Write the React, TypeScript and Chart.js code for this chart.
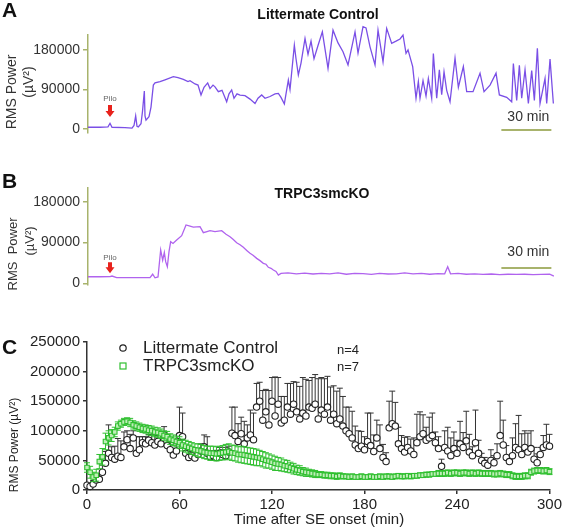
import React, { useEffect, useRef } from "react";
import { Chart, registerables } from "chart.js";
Chart.register(...registerables);

const FONT = "'Liberation Sans', Arial, sans-serif";
const OLIVE = "#a8b36c";
const GREEN = "#2fbf2f";

// ---------- Panel A: Littermate Control trace ----------
const A_TIME = [0, 7.2, 12, 13.2, 14.4, 22.2, 26.4, 27.6, 28.6, 29.4, 30.2, 31.8, 32.7, 33.8, 34.2, 34.8, 36.6, 37.8, 39.2, 40.2, 43.2, 46.2, 51.2, 54, 57.2, 60, 61.2, 64.2, 66, 67.8, 69.6, 71.8, 73.2, 75, 76.2, 78.2, 80.4, 83.2, 84.6, 86.2, 87.6, 89.4, 91.2, 94.2, 97.2, 100.2, 102, 104.2, 106.2, 109.2, 112.2, 114.2, 115.8, 117.8, 118.8, 120.2, 121.2, 122.1, 123.8, 124.8, 126.2, 127.8, 130.2, 132, 133.8, 135.6, 138, 140.6, 144, 147, 150, 153, 156, 160.2, 162, 165, 166.8, 169.2, 172.2, 174, 177, 179.2, 182.2, 184.8, 187.2, 189, 190.8, 192, 194.8, 196.8, 198.2, 199.2, 201, 202.8, 204.2, 206.2, 207.2, 209.2, 210.8, 212.2, 213.6, 215.2, 217.2, 220.2, 222.2, 225.2, 227.2, 231, 235.2, 237.6, 241.2, 244.8, 246.8, 251.2, 254.2, 255.2, 257.2, 258.8, 260.2, 262.2, 264.2, 266.2, 267.8, 269.6, 271.2, 274.2, 275.2, 277.2, 279.2];
const A_POWER = [4000, 4000, 5000, 13000, 4000, 3000, 2000, 8000, 30000, 6000, 4500, 12000, 40000, 86500, 30000, 20000, 28000, 50000, 100000, 105000, 108000, 112000, 119000, 117000, 113000, 108000, 110000, 102500, 100000, 77500, 95000, 105000, 92000, 100000, 96000, 85000, 88000, 62000, 80000, 89000, 70000, 80000, 77000, 76000, 68000, 58000, 70000, 77500, 70000, 74000, 80000, 81000, 72000, 57000, 80000, 111500, 90000, 125000, 191000, 160000, 123000, 150000, 206000, 170000, 200000, 160000, 190000, 221000, 138000, 225000, 196000, 176000, 146000, 221000, 173000, 233000, 230000, 187000, 146000, 225000, 153000, 229000, 195000, 200000, 205000, 214000, 172000, 180000, 142000, 70000, 108000, 70000, 110000, 75000, 115000, 70000, 172000, 70000, 135000, 78000, 130000, 88000, 62000, 161000, 95000, 142000, 85000, 85000, 127000, 85000, 100000, 127000, 77500, 72000, 62000, 149000, 65000, 145000, 70000, 135000, 58000, 133000, 65000, 184000, 58000, 115000, 58000, 159000, 58000];

// ---------- Panel B: TRPC3smcKO trace ----------
const B_TIME = [0, 7.2, 13.2, 14.4, 17.2, 25.2, 37.2, 38.8, 40.2, 42, 43.6, 44.8, 45.8, 46.6, 47.6, 48.6, 49.6, 51, 53.2, 56.2, 58.8, 61.2, 63.2, 67.2, 69.2, 71.4, 73.2, 76.2, 80.2, 82.8, 85.2, 87, 89.2, 91.2, 93.2, 95.4, 97.2, 99, 101.2, 103.2, 105.2, 106.8, 108.2, 109.8, 111.2, 112.8, 114.2, 115.8, 120, 125, 130, 135, 140, 145, 150, 155, 160, 165, 170, 175, 180, 185, 190, 195, 200, 205, 210, 214, 215.8, 217.5, 222, 227, 232, 237, 242, 247, 252, 257, 262, 267, 272, 277, 279.5];
const B_POWER = [14500, 14500, 14800, 16000, 12500, 12400, 12400, 20000, 12000, 14000, 73500, 51000, 68000, 47700, 36600, 70000, 91800, 88000, 95500, 105000, 128600, 126000, 124000, 125000, 111700, 114000, 116000, 114000, 116000, 108000, 102800, 97000, 89600, 85000, 79400, 72000, 66200, 62000, 55000, 50000, 44100, 42000, 35300, 33000, 29300, 26000, 18300, 22000, 23000, 21000, 22500, 20500, 22000, 21000, 23000, 20000, 22000, 21500, 19500, 22000, 20500, 21000, 23000, 21000, 22000, 20000, 21500, 21000, 36600, 21000, 22000, 20000, 21000, 19500, 20500, 19000, 20000, 19500, 20000, 19000, 19500, 20000, 16000];

const TRACE_TICKS = [0, 90000, 180000];
const PILO_MIN = 13.2;
const SCALE_BAR = [248, 278];

// ---------- Panel C: averaged RMS power, every 2 min ----------
const SAMPLE_STEP = 2;
const CTRL_MEAN = [
  8000, 6000, 10000, 17000, 18000, 30000, 45000, 62000, 55000, 52000,
  57000, 55000, 73000, 85000, 70000, 88000, 62000, 68000, 80000, 78000,
  84000, 80000, 76000, 82000, 78000, 93000, 75000, 68000, 59000, 66000,
  92000, 90000, 62000, 55000, 58000, 54000, 60000, 66000, 73000, 62000,
  56000, 58000, 55000, 62000, 60000, 58000, 64000, 96000, 92000, 82000,
  95000, 78000, 88000, 93000, 85000, 140000, 150000, 118000, 132000, 110000,
  150000, 125000, 145000, 113000, 118000, 140000, 128000, 145000, 132000, 120000,
  130000, 125000, 140000, 138000, 145000, 120000, 135000, 128000, 140000, 118000,
  128000, 112000, 120000, 108000, 100000, 95000, 88000, 76000, 70000, 74000,
  68000, 82000, 75000, 65000, 88000, 70000, 55000, 48000, 105000, 112000,
  108000, 78000, 70000, 64000, 72000, 66000, 60000, 80000, 90000, 95000,
  84000, 88000, 92000, 80000, 70000, 40000, 72000, 66000, 58000, 70000,
  62000, 78000, 72000, 83000, 64000, 58000, 80000, 62000, 50000, 45000,
  42000, 50000, 46000, 58000, 92000, 76000, 55000, 48000, 58000, 72000,
  68000, 60000, 72000, 64000, 70000, 52000, 46000, 60000, 72000, 76000,
  74000,
];
const CTRL_SEM = [
  3000, 3000, 6000, 8000, 10000, 12000, 20000, 48000, 18000, 22000,
  30000, 28000, 25000, 15000, 24000, 12000, 28000, 22000, 10000, 12000,
  10000, 14000, 18000, 10000, 20000, 14000, 16000, 12000, 10000, 12000,
  48000, 40000, 8000, 10000, 12000, 8000, 10000, 12000, 20000, 28000,
  10000, 8000, 12000, 10000, 8000, 14000, 10000, 44000, 48000, 30000,
  28000, 38000, 22000, 42000, 45000, 40000, 32000, 50000, 38000, 58000,
  40000, 66000, 45000, 45000, 40000, 40000, 52000, 38000, 50000, 55000,
  60000, 62000, 45000, 52000, 50000, 68000, 55000, 60000, 52000, 56000,
  48000, 55000, 52000, 50000, 40000, 45000, 45000, 32000, 30000, 25000,
  22000, 48000, 55000, 28000, 30000, 40000, 22000, 15000, 45000, 55000,
  40000, 28000, 22000, 25000, 18000, 20000, 28000, 48000, 42000, 32000,
  22000, 35000, 38000, 18000, 20000, 12000, 28000, 40000, 30000, 28000,
  22000, 38000, 25000, 50000, 30000, 15000, 55000, 22000, 12000, 10000,
  8000, 18000, 12000, 20000, 58000, 42000, 20000, 10000, 30000, 40000,
  58000, 35000, 28000, 32000, 30000, 20000, 15000, 12000, 20000, 35000,
  20000,
];
const KO_MEAN = [
  38000, 30000, 22000, 25000, 48000, 56000, 82000, 88000, 92000, 98000,
  108000, 112000, 115000, 116000, 114000, 110000, 108000, 106000, 104000, 103000,
  101000, 100000, 98000, 97000, 95000, 92000, 90000, 86000, 84000, 82000,
  80000, 76000, 74000, 72000, 70000, 68000, 67000, 66000, 64000, 63000,
  62000, 62000, 61000, 62000, 63000, 64000, 65000, 63000, 62000, 60000,
  60000, 59000, 58000, 57000, 56000, 55000, 54000, 52000, 50000, 49000,
  47000, 45000, 44000, 43000, 41000, 40000, 38000, 36000, 34000, 33000,
  31000, 30000, 29000, 28000, 27000, 26000, 26000, 25000, 25000, 24000,
  24000, 23000, 24000, 23000, 23000, 22000, 23000, 22000, 22000, 23000,
  22000, 22000, 23000, 22000, 22000, 23000, 22000, 23000, 23000, 22000,
  23000, 24000, 23000, 23000, 24000, 23000, 24000, 24000, 25000, 25000,
  26000, 26000, 27000, 27000, 28000, 28000, 28000, 29000, 28000, 29000,
  29000, 28000, 29000, 29000, 28000, 29000, 28000, 29000, 28000, 28000,
  28000, 28000, 27000, 27000, 28000, 27000, 26000, 26000, 24000, 23000,
  23000, 23000, 24000, 24000, 30000, 32000, 33000, 33000, 32000, 33000,
  31000,
];
const KO_SEM = [
  8000, 10000, 8000, 10000, 12000, 14000, 14000, 12000, 10000, 8000,
  7000, 6000, 6000, 6000, 7000, 7000, 7000, 7000, 7000, 7000,
  8000, 8000, 8000, 8000, 8000, 8000, 9000, 9000, 9000, 9000,
  10000, 10000, 10000, 10000, 10000, 10000, 11000, 11000, 11000, 11000,
  12000, 12000, 12000, 12000, 12000, 13000, 13000, 13000, 13000, 13000,
  14000, 14000, 14000, 14000, 14000, 14000, 13000, 13000, 13000, 12000,
  12000, 12000, 11000, 11000, 10000, 10000, 9000, 9000, 8000, 8000,
  7000, 7000, 6000, 6000, 6000, 5000, 5000, 5000, 5000, 5000,
  5000, 5000, 5000, 4000, 4000, 4000, 4000, 4000, 4000, 4000,
  4000, 4000, 4000, 4000, 4000, 4000, 4000, 4000, 4000, 4000,
  4000, 4000, 4000, 4000, 4000, 4000, 4000, 4000, 4000, 4000,
  4000, 4000, 4000, 4000, 5000, 5000, 5000, 5000, 5000, 5000,
  5000, 5000, 5000, 5000, 5000, 5000, 5000, 5000, 5000, 5000,
  5000, 5000, 5000, 5000, 5000, 5000, 5000, 5000, 5000, 5000,
  5000, 5000, 5000, 5000, 5000, 5000, 5000, 5000, 5000, 5000,
  5000,
];
const C_TIME = CTRL_MEAN.map((_, i) => i * SAMPLE_STEP);
const C_X_TICKS = [0, 60, 120, 180, 240, 300];
const C_Y_STEP = 50000;

function drawVertical(ctx: CanvasRenderingContext2D, text: string, x: number, y: number, font: string, color: string) {
  ctx.save();
  ctx.translate(x, y);
  ctx.rotate(-Math.PI / 2);
  ctx.font = font;
  ctx.fillStyle = color;
  ctx.textAlign = "center";
  ctx.textBaseline = "middle";
  ctx.fillText(text, 0, 0);
  ctx.restore();
}

function traceDecor(p: any) {
  return {
    id: "traceDecor",
    afterDraw(chart: any) {
      const { ctx } = chart;
      const x = chart.scales.x;
      const y = chart.scales.y;
      ctx.save();
      ctx.textBaseline = "middle";
      // panel letter
      ctx.fillStyle = "#111";
      ctx.textAlign = "left";
      ctx.font = `bold 21px ${FONT}`;
      ctx.fillText(p.letter, 2, p.letterY);
      // title
      ctx.textAlign = "center";
      ctx.font = `bold 14px ${FONT}`;
      ctx.fillText(p.title, p.titleX, p.titleY);
      // y axis title (two lines)
      drawVertical(ctx, p.yTitle1, p.yT1x, p.yT1y, `${p.yTitleSize}px ${FONT}`, "#333");
      drawVertical(ctx, "(\u00b5V\u00b2)", p.yT2x, p.yT2y, `${p.yTitleSize}px ${FONT}`, "#333");
      // Pilo marker
      const px = x.getPixelForValue(PILO_MIN);
      const y0 = y.getPixelForValue(0);
      ctx.fillStyle = "#666";
      ctx.font = `8px ${FONT}`;
      ctx.fillText("Pilo", px, y0 - p.piloText);
      ctx.fillStyle = "#e8221c";
      const top = y0 - p.arrowTop;
      const tip = y0 - p.arrowTip;
      const neck = tip - 6;
      ctx.beginPath();
      ctx.moveTo(px - 2, top);
      ctx.lineTo(px + 2, top);
      ctx.lineTo(px + 2, neck);
      ctx.lineTo(px + 4.5, neck);
      ctx.lineTo(px, tip);
      ctx.lineTo(px - 4.5, neck);
      ctx.lineTo(px - 2, neck);
      ctx.closePath();
      ctx.fill();
      // scale bar
      const bx0 = x.getPixelForValue(SCALE_BAR[0]);
      const bx1 = x.getPixelForValue(SCALE_BAR[1]);
      const by = y.getPixelForValue(p.barValue);
      ctx.strokeStyle = OLIVE;
      ctx.lineWidth = 2;
      ctx.beginPath();
      ctx.moveTo(bx0, by);
      ctx.lineTo(bx1, by);
      ctx.stroke();
      ctx.fillStyle = "#333";
      ctx.font = `14px ${FONT}`;
      ctx.fillText("30 min", (bx0 + bx1) / 2 + 2, by - p.barText);
      ctx.restore();
    },
  };
}

function makeTrace(canvas: HTMLCanvasElement, p: any) {
  return new Chart(canvas, {
    type: "line",
    data: {
      datasets: [
        {
          data: p.times.map((t: number, i: number) => ({ x: t, y: p.values[i] })),
          borderColor: p.color,
          borderWidth: 1.3,
          pointRadius: 0,
          tension: 0,
          clip: false as any,
        },
      ],
    },
    options: {
      animation: false,
      responsive: false,
      events: [],
      layout: { padding: { left: 0, top: p.areaTop, right: 9.3, bottom: p.height - p.areaBottom } },
      plugins: { legend: { display: false }, tooltip: { enabled: false }, title: { display: false } },
      scales: {
        x: { type: "linear", display: false, min: 0, max: 280 },
        y: {
          type: "linear",
          min: p.yMin,
          max: p.yMax,
          afterFit: (s: any) => {
            s.width = 88;
          },
          afterBuildTicks: (s: any) => {
            s.ticks = TRACE_TICKS.map((v) => ({ value: v }));
          },
          border: { display: true, color: OLIVE, width: 1.5 },
          grid: { drawOnChartArea: false, drawTicks: true, tickLength: 5, color: OLIVE, lineWidth: 1.5 },
          ticks: { color: "#333", font: { family: FONT, size: 14 }, padding: 3, callback: (v: any) => String(v) },
        },
      },
    },
    plugins: [traceDecor(p)],
  } as any);
}

const avgPlugin = {
  id: "avgDecor",
  beforeDatasetDraw(chart: any, args: any) {
    const ds = chart.data.datasets[args.index];
    const eb = ds.errorBars;
    if (!eb) return;
    const { ctx } = chart;
    const x = chart.scales.x;
    const y = chart.scales.y;
    ctx.save();
    ctx.strokeStyle = eb.color;
    ctx.lineWidth = 1;
    ds.data.forEach((pt: any, j: number) => {
      const px = x.getPixelForValue(pt.x);
      const topY = y.getPixelForValue(pt.y + eb.values[j]);
      const botY = eb.both ? y.getPixelForValue(pt.y - eb.values[j]) : y.getPixelForValue(pt.y);
      ctx.beginPath();
      ctx.moveTo(px, topY);
      ctx.lineTo(px, botY);
      ctx.moveTo(px - 3, topY);
      ctx.lineTo(px + 3, topY);
      if (eb.both) {
        ctx.moveTo(px - 3, botY);
        ctx.lineTo(px + 3, botY);
      }
      ctx.stroke();
    });
    ctx.restore();
  },
  afterDraw(chart: any) {
    const { ctx } = chart;
    ctx.save();
    ctx.textBaseline = "middle";
    ctx.textAlign = "left";
    ctx.fillStyle = "#111";
    ctx.font = `bold 21px ${FONT}`;
    ctx.fillText("C", 2, 38);
    // legend
    ctx.lineWidth = 1.2;
    ctx.strokeStyle = "#222";
    ctx.fillStyle = "#fff";
    ctx.beginPath();
    ctx.arc(123, 38, 3.2, 0, Math.PI * 2);
    ctx.fill();
    ctx.stroke();
    ctx.strokeStyle = GREEN;
    ctx.strokeRect(120, 53, 6, 6);
    ctx.fillStyle = "#222";
    ctx.font = `17px ${FONT}`;
    ctx.fillText("Littermate Control", 143, 38);
    ctx.fillText("TRPC3smcKO", 143, 56);
    ctx.font = `13px ${FONT}`;
    ctx.fillText("n=4", 337, 40);
    ctx.fillText("n=7", 337, 57);
    // axis titles
    ctx.textAlign = "center";
    ctx.font = `15px ${FONT}`;
    ctx.fillText("Time after SE onset (min)", 319, 210);
    drawVertical(ctx, "RMS Power (\u00b5V\u00b2)", 15, 135, `12px ${FONT}`, "#222");
    ctx.restore();
  },
};

function makeAverage(canvas: HTMLCanvasElement) {
  return new Chart(canvas, {
    type: "line",
    data: {
      datasets: [
        {
          label: "Littermate Control",
          data: C_TIME.map((t, i) => ({ x: t, y: CTRL_MEAN[i] })),
          showLine: false,
          pointStyle: "circle",
          pointRadius: 3.2,
          pointBorderWidth: 1.1,
          pointBorderColor: "#222",
          pointBackgroundColor: "#fff",
          order: 2,
          clip: false,
          errorBars: { values: CTRL_SEM, both: false, color: "#333" },
        },
        {
          label: "TRPC3smcKO",
          data: C_TIME.map((t, i) => ({ x: t, y: KO_MEAN[i] })),
          showLine: false,
          pointStyle: "rect",
          pointRadius: 3.2,
          pointBorderWidth: 1.1,
          pointBorderColor: GREEN,
          pointBackgroundColor: "#bfeeb8",
          order: 1,
          clip: false,
          errorBars: { values: KO_SEM, both: true, color: GREEN },
        },
      ],
    },
    options: {
      animation: false,
      responsive: false,
      events: [],
      layout: { padding: { left: 0, top: 32, right: 13, bottom: 0 } },
      plugins: { legend: { display: false }, tooltip: { enabled: false }, title: { display: false } },
      scales: {
        x: {
          type: "linear",
          min: 0,
          max: 300,
          afterFit: (s: any) => {
            s.height = 37;
          },
          afterBuildTicks: (s: any) => {
            s.ticks = C_X_TICKS.map((v) => ({ value: v }));
          },
          border: { display: true, color: "#333", width: 1.5 },
          grid: { drawOnChartArea: false, drawTicks: true, tickLength: 4, color: "#333", lineWidth: 1.5 },
          ticks: { color: "#222", font: { family: FONT, size: 15 }, padding: 2, maxRotation: 0, callback: (v: any) => String(v) },
        },
        y: {
          type: "linear",
          min: 0,
          max: 250000,
          afterFit: (s: any) => {
            s.width = 87;
          },
          border: { display: true, color: "#333", width: 1.5 },
          grid: { drawOnChartArea: false, drawTicks: true, tickLength: 4, color: "#333", lineWidth: 1.5 },
          ticks: { stepSize: C_Y_STEP, color: "#222", font: { family: FONT, size: 15 }, padding: 3, callback: (v: any) => String(v) },
        },
      },
    },
    plugins: [avgPlugin],
  } as any);
}

export default function App() {
  const refA = useRef<HTMLCanvasElement>(null);
  const refB = useRef<HTMLCanvasElement>(null);
  const refC = useRef<HTMLCanvasElement>(null);

  useEffect(() => {
    const charts = [
      makeTrace(refA.current!, {
        times: A_TIME, values: A_POWER, color: "#7a4fe6",
        areaTop: 35, areaBottom: 133, height: 160, yMin: -9100, yMax: 214000,
        letter: "A", letterY: 11, title: "Littermate Control", titleX: 318, titleY: 15,
        yTitle1: "RMS Power", yTitleSize: 14, yT1x: 12, yT1y: 92, yT2x: 29, yT2y: 82,
        piloText: 30, arrowTop: 24, arrowTip: 12, barValue: -2000, barText: 13,
      }),
      makeTrace(refB.current!, {
        times: B_TIME, values: B_POWER, color: "#b063ee",
        areaTop: 28, areaBottom: 125, height: 150, yMin: -3750, yMax: 210200,
        letter: "B", letterY: 22, title: "TRPC3smcKO", titleX: 322, titleY: 34,
        yTitle1: "RMS  Power", yTitleSize: 13, yT1x: 13, yT1y: 94, yT2x: 30, yT2y: 81,
        piloText: 26, arrowTop: 21, arrowTip: 10, barValue: 34000, barText: 16,
      }),
      makeAverage(refC.current!),
    ];
    return () => charts.forEach((c) => c.destroy());
  }, []);

  return (
    <div style={{ position: "absolute", left: 0, top: 0, width: 564, height: 527, background: "#fff", overflow: "hidden" }}>
      <canvas ref={refA} width={564} height={160} style={{ position: "absolute", left: 0, top: 0 }} />
      <canvas ref={refB} width={564} height={150} style={{ position: "absolute", left: 0, top: 160 }} />
      <canvas ref={refC} width={564} height={217} style={{ position: "absolute", left: 0, top: 310 }} />
    </div>
  );
}
